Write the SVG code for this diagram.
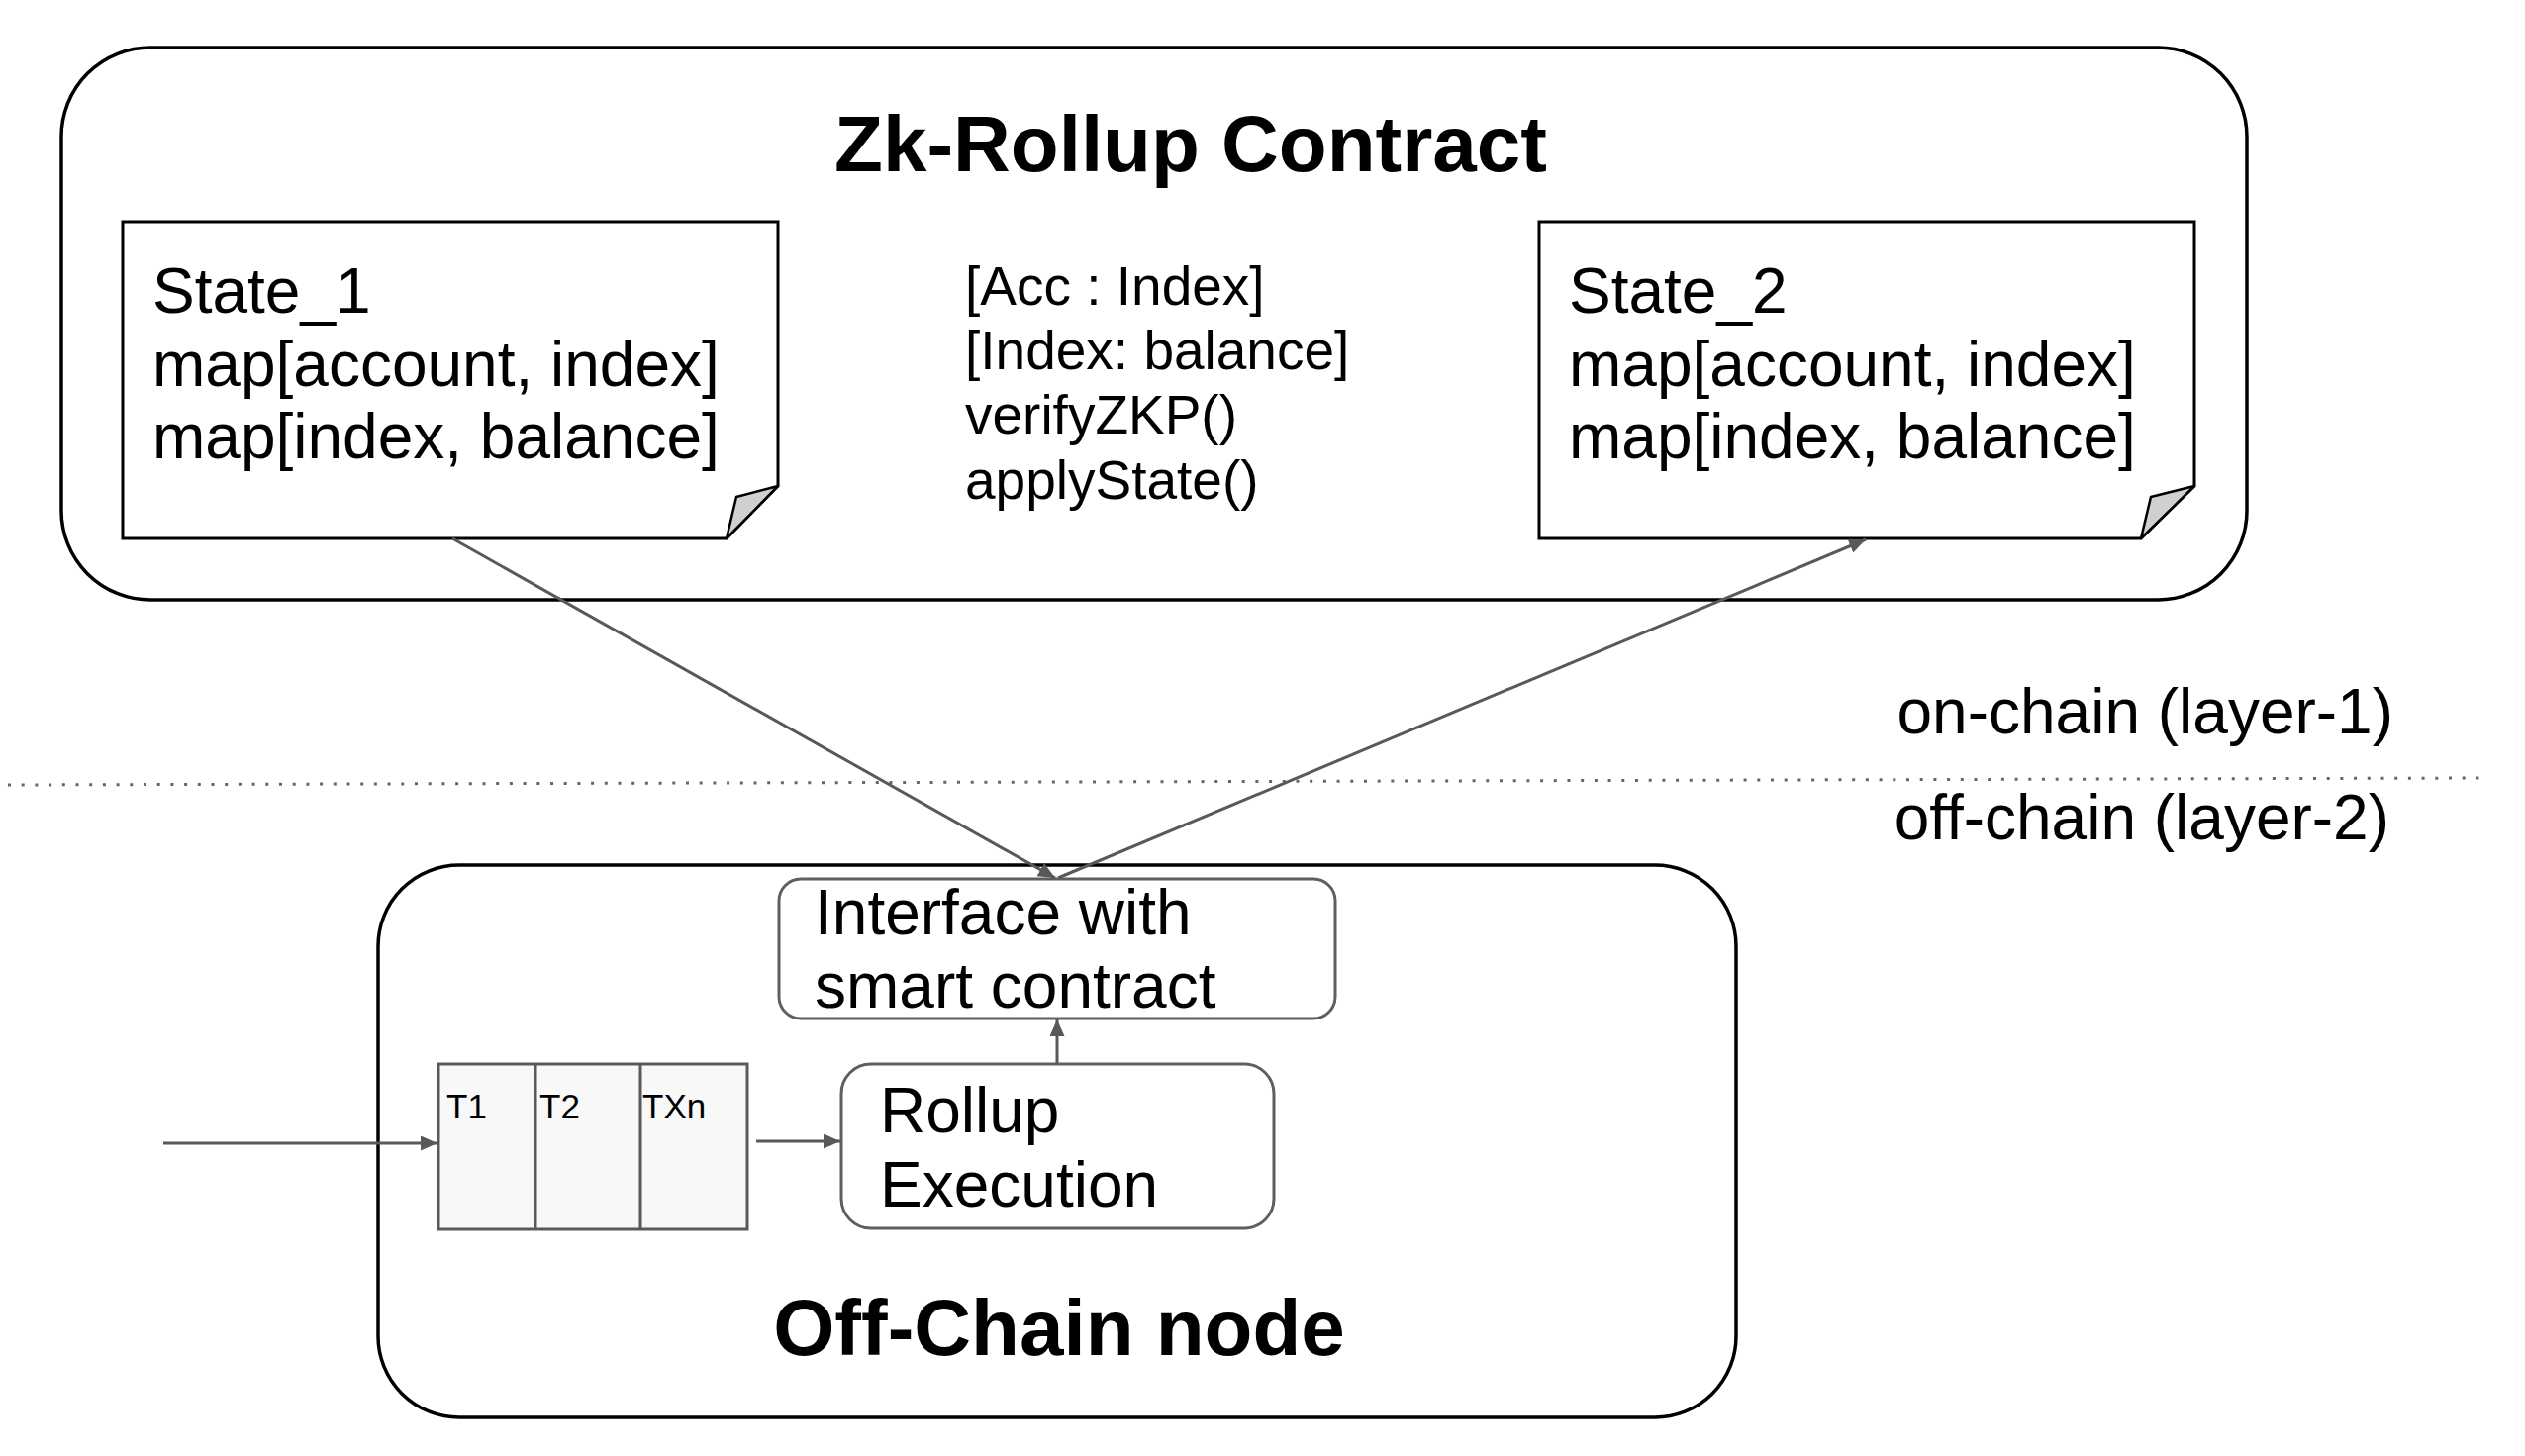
<svg xmlns="http://www.w3.org/2000/svg" width="2551" height="1471" viewBox="0 0 2551 1471">
<style>
text { font-family: "Liberation Sans", Arial, sans-serif; fill: #000; }
.big { font-size: 64px; }
.mid { font-size: 55px; }
.small { font-size: 35px; }
.title { font-size: 80px; font-weight: bold; }
.outer { fill: #fff; stroke: #000; stroke-width: 3.5; }
.note { fill: #fff; stroke: #000; stroke-width: 3; }
.fold { fill: #d0d0d0; stroke: #000; stroke-width: 2.5; stroke-linejoin: round; }
.inner { fill: #fff; stroke: #5f5f5f; stroke-width: 3; }
.queue { fill: #f8f8f8; stroke: #595959; stroke-width: 3; }
.conn { fill: none; stroke: #595959; stroke-width: 3; }
</style>
<defs>
<marker id="arrow" markerUnits="userSpaceOnUse" markerWidth="18" markerHeight="16" refX="17" refY="7.5" orient="auto">
<path d="M0,0 L17,7.5 L0,15 Z" fill="#595959"/>
</marker>
</defs>
<rect width="2551" height="1471" fill="#fff"/>

<g id="zk-rollup-contract">
<rect class="outer" x="62" y="48" width="2208" height="558" rx="90" ry="90"/>
<text class="title" x="1203" y="173" text-anchor="middle">Zk-Rollup Contract</text>
</g>

<g id="state-1">
<path class="note" d="M124,224 H786 V491 L734,544 H124 Z"/>
<polygon class="fold" points="786,491 744,502 734,544"/>
<text class="big" x="154" y="316">State_1</text>
<text class="big" x="154" y="390">map[account, index]</text>
<text class="big" x="154" y="463">map[index, balance]</text>
</g>

<g id="contract-functions">
<text class="mid" x="975" y="308">[Acc : Index]</text>
<text class="mid" x="975" y="373">[Index: balance]</text>
<text class="mid" x="975" y="438">verifyZKP()</text>
<text class="mid" x="975" y="504">applyState()</text>
</g>

<g id="state-2">
<path class="note" d="M1555,224 H2217 V491 L2163,544 H1555 Z"/>
<polygon class="fold" points="2217,491 2173,502 2163,544"/>
<text class="big" x="1585" y="316">State_2</text>
<text class="big" x="1585" y="390">map[account, index]</text>
<text class="big" x="1585" y="463">map[index, balance]</text>
</g>

<g id="layer-divider">
<line x1="8" y1="793" x2="2510" y2="786" stroke="#666" stroke-width="3" stroke-dasharray="3 10.7"/>
<text class="big" x="2418" y="741" text-anchor="end">on-chain (layer-1)</text>
<text class="big" x="2414" y="848" text-anchor="end">off-chain (layer-2)</text>
</g>

<g id="off-chain-node">
<rect class="outer" x="382" y="874" width="1372" height="558" rx="82" ry="82"/>
<text class="title" x="1070" y="1369" text-anchor="middle">Off-Chain node</text>
</g>

<g id="interface">
<rect class="inner" x="787" y="888" width="562" height="141" rx="22" ry="22"/>
<text class="big" x="823" y="944">Interface with</text>
<text class="big" x="823" y="1018">smart contract</text>
</g>

<g id="tx-queue">
<rect class="queue" x="443" y="1075" width="312" height="167"/>
<line class="conn" x1="541" y1="1075" x2="541" y2="1242"/>
<line class="conn" x1="647" y1="1075" x2="647" y2="1242"/>
<text class="small" x="451" y="1130">T1</text>
<text class="small" x="545" y="1130">T2</text>
<text class="small" x="649" y="1130">TXn</text>
</g>

<g id="rollup-execution">
<rect class="inner" x="850" y="1075" width="437" height="166" rx="30" ry="30"/>
<text class="big" x="889" y="1144">Rollup</text>
<text class="big" x="889" y="1219">Execution</text>
</g>

<g id="connectors">
<line class="conn" x1="457" y1="544" x2="1066" y2="887" marker-end="url(#arrow)"/>
<line class="conn" x1="1069" y1="887" x2="1885" y2="545" marker-end="url(#arrow)"/>
<line class="conn" x1="1068" y1="1075" x2="1068" y2="1030" marker-end="url(#arrow)"/>
<line class="conn" x1="165" y1="1155" x2="442" y2="1155" marker-end="url(#arrow)"/>
<line class="conn" x1="764" y1="1153" x2="849" y2="1153" marker-end="url(#arrow)"/>
</g>
</svg>
